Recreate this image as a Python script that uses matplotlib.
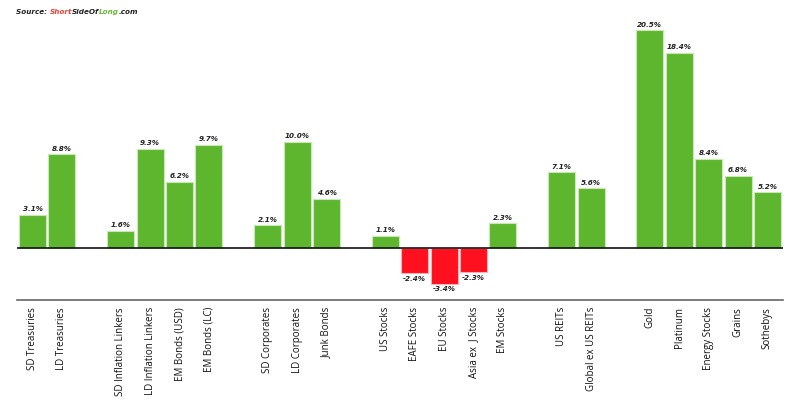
import matplotlib
matplotlib.use("Agg")
import matplotlib.pyplot as plt
from matplotlib.offsetbox import TextArea, HPacker, AnchoredOffsetbox

categories = [
    ["SD Treasuries", "LD Treasuries"],
    ["SD Inflation Linkers", "LD Inflation Linkers", "EM Bonds (USD)", "EM Bonds (LC)"],
    ["SD Corporates", "LD Corporates", "Junk Bonds"],
    ["US Stocks", "EAFE Stocks", "EU Stocks", "Asia ex  J Stocks", "EM Stocks"],
    ["US REITs", "Global ex US REITs"],
    ["Gold", "Platinum", "Energy Stocks", "Grains", "Sothebys"],
]
values = [
    [3.1, 8.8],
    [1.6, 9.3, 6.2, 9.7],
    [2.1, 10.0, 4.6],
    [1.1, -2.4, -3.4, -2.3, 2.3],
    [7.1, 5.6],
    [20.5, 18.4, 8.4, 6.8, 5.2],
]

GREEN = "#5eb62f"
RED = "#fe101e"

fig = plt.figure(figsize=(8, 4.08), dpi=100)
ax = fig.add_axes([17/800, 1 - 300/408, 766/800, (300 - 24)/408])

xs, vals, labs = [], [], []
pos = 0
for gi, (cats, vs) in enumerate(zip(categories, values)):
    if gi > 0:
        pos += 1
    for c, v in zip(cats, vs):
        xs.append(pos)
        vals.append(v)
        labs.append(c)
        pos += 1

colors = [GREEN if v >= 0 else RED for v in vals]
edges = ["#c8e8b4" if v >= 0 else "#ffb0b4" for v in vals]
ax.bar(xs, vals, width=0.92, color=colors, edgecolor=edges, linewidth=0.8, zorder=2)

for x, v in zip(xs, vals):
    if v >= 0:
        ax.text(x, v + 0.25, f"{v:.1f}%", ha="center", va="bottom", fontsize=5.2,
                fontweight="bold", style="italic", color="#222222", family="DejaVu Sans")
    else:
        ax.text(x, v - 0.25, f"{v:.1f}%", ha="center", va="top", fontsize=5.2,
                fontweight="bold", style="italic", color="#222222", family="DejaVu Sans")

ax.axhline(0, color="#111111", linewidth=1.2, zorder=3)
ax.set_xlim(-0.53, pos - 0.47)
ax.set_ylim(-4.95, 21.1)
ax.set_xticks(xs)
ax.set_xticklabels(labs, rotation=90, fontsize=7, family="Open Sans", color="#111111")
ax.tick_params(axis="x", length=0, pad=5)
ax.set_yticks([])
for s in ["top", "left", "right"]:
    ax.spines[s].set_visible(False)
ax.spines["bottom"].set_color("#666666")
ax.spines["bottom"].set_linewidth(1.2)

fp = dict(fontsize=5.2, fontweight="bold", style="italic")
parts = [("Source: ", "#222222"), ("Short", "#f0403a"), ("SideOf", "#222222"),
         ("Long", "#6ab83a"), (".com", "#222222")]
boxes = [TextArea(t, textprops=dict(color=c, **fp)) for t, c in parts]
pack = HPacker(children=boxes, align="baseline", pad=0, sep=0)
anch = AnchoredOffsetbox(loc="upper left", child=pack, pad=0, frameon=False,
                         bbox_to_anchor=(16/800, 1 - 9/408), bbox_transform=fig.transFigure,
                         borderpad=0)
fig.add_artist(anch)

fig.savefig("out.png", dpi=100, facecolor="white")
